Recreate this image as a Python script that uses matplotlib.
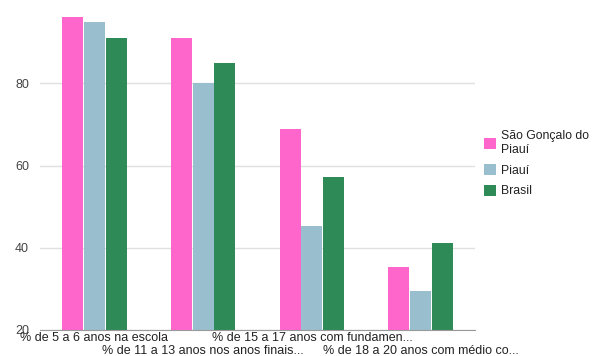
import matplotlib
matplotlib.use('Agg')
import matplotlib.pyplot as plt
import numpy as np

categories = [
    '% de 5 a 6 anos na escola',
    '% de 11 a 13 anos nos anos finais...',
    '% de 15 a 17 anos com fundamen...',
    '% de 18 a 20 anos com médio co...',
]
series_names = ['São Gonçalo do\nPiauí', 'Piauí', 'Brasil']
sao_goncalo = [96.0, 91.0, 68.8, 35.3]
piaui = [95.0, 80.0, 45.3, 29.5]
brasil = [91.0, 85.0, 57.2, 41.1]
colors = ['#ff66cc', '#99bfcf', '#2e8b57']

plt.rcParams['font.family'] = ['Liberation Sans', 'DejaVu Sans']

fig = plt.figure(figsize=(5.97, 3.56), dpi=100)
ax = fig.add_axes([40 / 597, 1 - 330 / 356, 435 / 597, 329 / 356])

x = np.arange(len(categories))
w = 0.2
for i, (vals, name) in enumerate(zip([sao_goncalo, piaui, brasil], series_names)):
    ax.bar(x + (i - 1) * w, np.array(vals) - 20, w * 0.96, bottom=20,
           color=colors[i], label=name, zorder=3)

ax.set_xlim(-0.5, len(categories) - 0.5)
ax.set_ylim(20, 100)
ax.set_yticks([20, 40, 60, 80])
ax.grid(axis='y', color='#e0e0e0', linewidth=1, zorder=0)
for s in ['top', 'right', 'left']:
    ax.spines[s].set_visible(False)
ax.spines['bottom'].set_color('#999999')
ax.spines['bottom'].set_zorder(4)
ax.tick_params(length=0, labelsize=9, colors='#444444')
ax.tick_params(axis='y', pad=8)

ax.set_xticks(x)
ax.set_xticklabels([])
# staggered category labels, like the original two-row layout
for i, cat in enumerate(categories):
    off = 8 if i % 2 == 0 else 21
    ax.annotate(cat, (x[i], 0), xycoords=('data', 'axes fraction'),
                xytext=(0, -off), textcoords='offset pixels',
                ha='center', va='center', fontsize=9, color='#222222')

ax.legend(loc='upper left', bbox_to_anchor=(0.995, 0.64), frameon=False,
          fontsize=8.8, handlelength=1.0, handleheight=1.0, handletextpad=0.4,
          labelspacing=0.65, labelcolor='#222222')

fig.savefig('out.png', dpi=100)
